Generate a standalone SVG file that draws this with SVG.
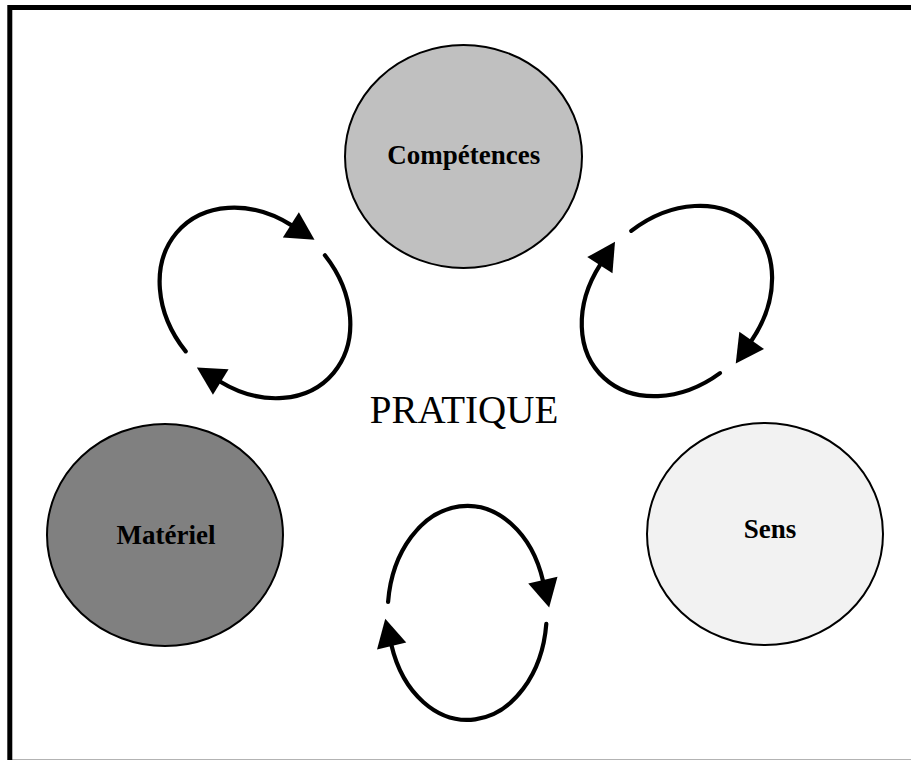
<svg xmlns="http://www.w3.org/2000/svg" width="911" height="760" viewBox="0 0 911 760">
  <style>
    .node { stroke: #000; stroke-width: 2; }
    .label { font-family: "Liberation Serif", "Times New Roman", serif; font-weight: bold; font-size: 27px; fill: #000; text-anchor: middle; }
    .title { font-family: "Liberation Serif", "Times New Roman", serif; font-size: 39px; fill: #000; text-anchor: middle; }
    .cyc { fill: none; stroke: #000; stroke-width: 4.2; stroke-linecap: round; marker-end: url(#head); }
  </style>
  <defs>
    <marker id="head" markerUnits="userSpaceOnUse" markerWidth="30" markerHeight="32" refX="1" refY="15" orient="auto" overflow="visible">
      <path d="M0,0 L28,15 L0,30 Z" fill="#000"/>
    </marker>
  </defs>
  <rect x="0" y="0" width="911" height="760" fill="#fff"/>
  <rect x="9.8" y="7.5" width="910" height="754.7" fill="none" stroke="#000" stroke-width="5"/>

  <g id="competences">
    <ellipse class="node" cx="463.5" cy="156.5" rx="118.5" ry="111.5" fill="#c0c0c0"/>
    <text class="label" x="463.7" y="164">Compétences</text>
  </g>
  <g id="materiel">
    <ellipse class="node" cx="165" cy="535" rx="118" ry="111" fill="#808080"/>
    <text class="label" x="166" y="544">Matériel</text>
  </g>
  <g id="sens">
    <ellipse class="node" cx="765" cy="534" rx="118" ry="111" fill="#f2f2f2"/>
    <text class="label" x="770" y="538">Sens</text>
  </g>
  <g id="pratique">
    <text class="title" x="464" y="423">PRATIQUE</text>
  </g>

  <g id="connectors">
    <path class="cyc" d="M185.7,351.4 A105,84 45 0 1 291.7,225.4"/>
    <path class="cyc" d="M324.9,255.3 A105,84 45 0 1 219.9,381.5"/>
    <path class="cyc" d="M631.3,230.9 A106,83 -45 0 1 751.1,341.2"/>
    <path class="cyc" d="M720,373.1 A106,83 -45 0 1 600.4,264.4"/>
    <path class="cyc" d="M388.1,601.8 A79.5,107 0 0 1 543.1,581.2"/>
    <path class="cyc" d="M546.3,623.9 A79.5,107 0 0 1 391.4,645"/>
  </g>
</svg>
